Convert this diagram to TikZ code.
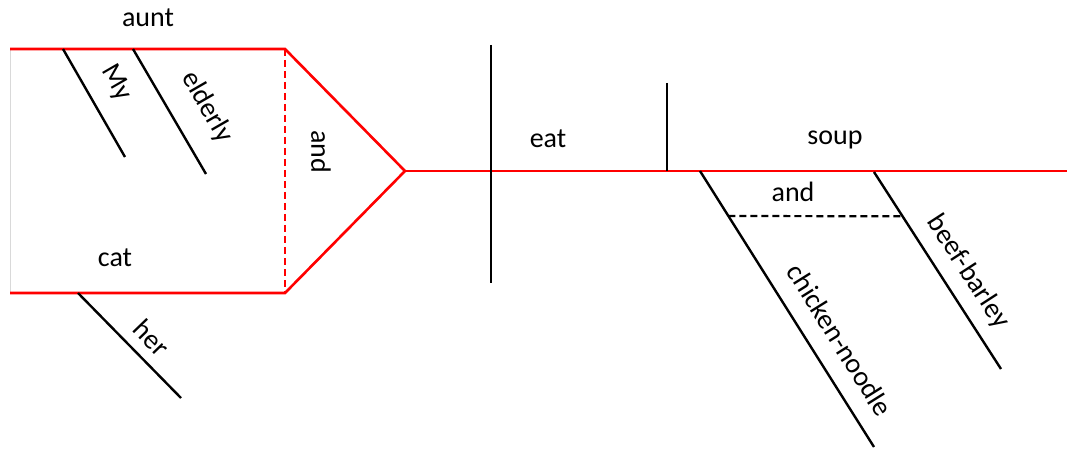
\documentclass[tikz,border=0pt]{standalone}
\usepackage{fontspec}
\setmainfont{Carlito}
\usetikzlibrary{calc}
\definecolor{myred}{RGB}{255,0,0}
\tikzset{
  word/.style={inner sep=0pt,font=\fontsize{28}{33}\selectfont},
  baseline/.style={draw=myred,line width=2.6pt},
  modline/.style={draw=black,line width=2.4pt},
}

\begin{document}
\begin{tikzpicture}[x=1pt,y=-1pt,
    conj/.style={dash pattern=on 7pt off 4pt,line width=2.2pt},
  ]
  \useasboundingbox (0,0) rectangle (1067,454);

  % compound subject
  \coordinate (tl) at (10,49);
  \coordinate (tr) at (285,49);
  \coordinate (bl) at (10,293);
  \coordinate (br) at (285,293);
  \coordinate (fork) at (405,171);
  \coordinate (lineend) at (1067,171);
  \draw[gray!30,line width=0.8pt] (tl) -- (bl);
  \draw[baseline] (tl) -- (tr) -- (fork) -- (br) -- (bl);
  \draw[baseline,conj] (tr) -- (br);
  \draw[baseline] (fork) -- (lineend);
  \node[word] (aunt) at (148,18) {aunt};
  \node[word] (cat) at (115,258) {cat};
  \node[word,rotate=-90] (and1) at (321,152) {and};

  % modifiers of aunt and cat
  \coordinate (my1) at (63,49);   \coordinate (my2) at (125,157);
  \coordinate (eld1) at (133,49); \coordinate (eld2) at (206,174);
  \coordinate (her1) at (78,293); \coordinate (her2) at (181,398);
  \draw[modline] (my1) -- (my2);
  \draw[modline] (eld1) -- (eld2);
  \draw[modline] (her1) -- (her2);
  \node[word,rotate=-60] (my) at (116,83) {My};
  \node[word,rotate=-60] (elderly) at (207,107) {elderly};
  \node[word,rotate=-46] (her) at (152,338) {her};

  % verb and object
  \coordinate (v1) at (491,45);  \coordinate (v2) at (491,283);
  \coordinate (o1) at (667,83);  \coordinate (o2) at (667,171);
  \draw[modline] (v1) -- (v2);
  \draw[modline] (o1) -- (o2);
  \node[word] (eat) at (548,139) {eat};
  \node[word] (soup) at (835,140) {soup};

  % compound modifier of soup
  \coordinate (cn1) at (700,171); \coordinate (cn2) at (874,447);
  \coordinate (bb1) at (874,172); \coordinate (bb2) at (1001,369);
  \draw[modline] (cn1) -- (cn2);
  \draw[modline] (bb1) -- (bb2);
  \draw[conj] ($(cn1)!0.163!(cn2)$) -- ($(bb1)!0.225!(bb2)$);
  \node[word] (and2) at (793,192) {and};
  \node[word,rotate=-58] (chicken) at (840,340) {chicken-noodle};
  \node[word,rotate=-57] (beef) at (968,272) {beef-barley};
\end{tikzpicture}
\end{document}
